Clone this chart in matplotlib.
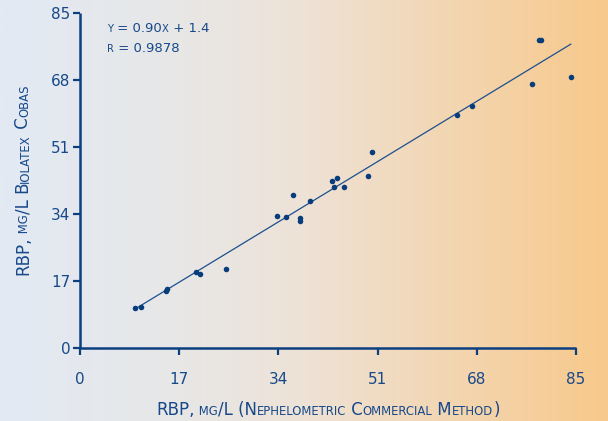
import numpy as np
import matplotlib
matplotlib.use("Agg")
import matplotlib.pyplot as plt
from matplotlib.colors import LinearSegmentedColormap
from matplotlib.text import Annotation

# RBP (mg/L): nephelometric commercial method vs Biolatex Cobas
nephelometric = [9.4, 10.4, 14.7, 14.9, 19.9, 20.6, 25.0, 33.7, 35.3, 36.5, 37.7, 37.7,
                 39.5, 43.2, 44.1, 43.5, 45.2, 49.3, 50.0, 64.6, 67.1, 77.4, 78.6, 79.0, 84.1]
cobas = [10.2, 10.5, 14.5, 14.9, 19.2, 18.8, 20.1, 33.5, 33.3, 38.8, 32.2, 33.0,
         37.3, 42.5, 43.1, 40.8, 40.9, 43.7, 49.8, 59.1, 61.4, 66.9, 78.2, 78.2, 68.8]
slope, intercept, r_value = 0.90, 1.4, 0.9878
ticks = [0, 17, 34, 51, 68, 85]

TEXT = "#17498a"
AXIS = "#0c3f80"
DOT = "#083d7c"


def split_smallcaps(s):
    # spaces go with the run that follows them (trailing spaces get dropped)
    runs = []
    pending = ""
    for ch in s:
        if ch == " ":
            pending += ch
            continue
        small = ch.islower()
        if runs and runs[-1][1] == small:
            runs[-1][0] += pending + ch
        else:
            runs.append([pending + ch, small])
        pending = ""
    return [(t.upper(), sm) for t, sm in runs]


def smallcaps(fig, x, y, s, size, ratio=0.72, vertical=False):
    pieces = []
    rot = 90 if vertical else 0
    for i, (txt, small) in enumerate(split_smallcaps(s)):
        fs = size * ratio if small else size
        kw = dict(fontsize=fs, color=TEXT, rotation=rot, rotation_mode="anchor",
                  ha="left", va="baseline")
        if i == 0:
            t = fig.text(x, y, txt, **kw)
        else:
            prev = pieces[-1]
            if vertical:
                t = Annotation(txt, xy=(x, 1), xycoords=("figure fraction", prev), **kw)
            else:
                t = Annotation(txt, xy=(1, y), xycoords=(prev, "figure fraction"), **kw)
            fig.add_artist(t)
        pieces.append(t)
    return pieces


def center_pieces(fig, pieces, pos, vertical=False):
    fig.canvas.draw()
    r = fig.canvas.get_renderer()
    boxes = [p.get_window_extent(r) for p in pieces]
    W, H = fig.bbox.width, fig.bbox.height
    first = pieces[0]
    x0, y0 = first.get_position()
    if vertical:
        mid = (min(b.y0 for b in boxes) + max(b.y1 for b in boxes)) / 2
        first.set_position((x0, y0 + (pos * H - mid) / H))
    else:
        mid = (min(b.x0 for b in boxes) + max(b.x1 for b in boxes)) / 2
        first.set_position((x0 + (pos * W - mid) / W, y0))


fig = plt.figure(figsize=(6.08, 4.21), dpi=100)

# background gradient
bg = fig.add_axes([0, 0, 1, 1])
bg.set_zorder(-1)
cmap = LinearSegmentedColormap.from_list(
    "bg", [(0, "#e2eaf4"), (0.3, "#e8e7e6"), (0.5, "#eee2d6"), (1, "#f8c98b")])
grad = np.linspace(0, 1, 512).reshape(1, -1)
bg.imshow(grad, cmap=cmap, aspect="auto", extent=[0, 1, 0, 1])
bg.axis("off")

ax = fig.add_axes([80 / 608, 1 - 348 / 421, 496 / 608, 335 / 421])
ax.patch.set_alpha(0)
ax.set_xlim(0, 85)
ax.set_ylim(0, 85)
ax.set_xticks(ticks)
ax.set_yticks(ticks)
for side in ("top", "right"):
    ax.spines[side].set_visible(False)
for side in ("left", "bottom"):
    ax.spines[side].set_color(AXIS)
    ax.spines[side].set_linewidth(1.8)
    ax.spines[side].set_capstyle("butt")
ax.tick_params(colors=AXIS, labelcolor=TEXT, width=1.6, length=5, labelsize=11)
ax.tick_params(axis="x", pad=12)
ax.tick_params(axis="y", pad=2)

fit_x = np.linspace(min(nephelometric), max(nephelometric), 2)
ax.plot(fit_x, slope * fit_x + intercept, color="#1c4f8e", lw=0.9, zorder=2)
ax.scatter(nephelometric, cobas, s=16, color=DOT, zorder=3, linewidths=0)

eq1 = smallcaps(fig, 107 / 608, 1 - 32 / 421, f"y = {slope:.2f}x + {intercept}", 9.5, 0.76)
eq2 = smallcaps(fig, 107 / 608, 1 - 52 / 421, f"r = {r_value}", 9.5, 0.76)

xl = smallcaps(fig, 0.1, 1 - 415 / 421, "RBP, mg/L (Nephelometric Commercial Method)", 12, 0.7)
yl = smallcaps(fig, 28.5 / 608, 0.3, "RBP, mg/L Biolatex Cobas", 12, 0.7, vertical=True)
center_pieces(fig, xl, 328 / 608)
center_pieces(fig, yl, 1 - 180 / 421, vertical=True)

fig.savefig("out.png", dpi=100)
